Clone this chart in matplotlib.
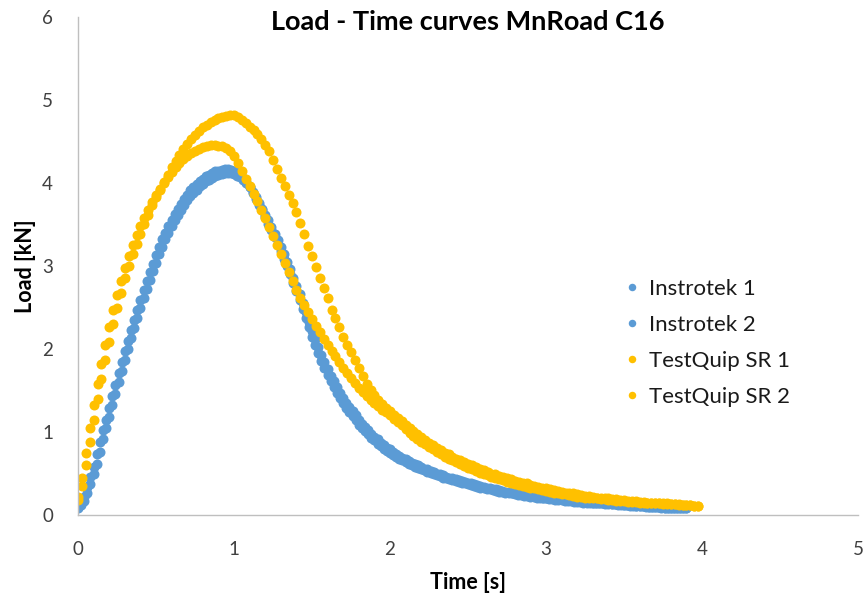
import numpy as np
import matplotlib
matplotlib.use("Agg")
import matplotlib.pyplot as plt

plt.rcParams['font.family'] = ['Lato', 'DejaVu Sans']

title = "Load - Time curves MnRoad C16"
x_label = "Time [s]"
y_label = "Load [kN]"
series_names = ["Instrotek 1", "Instrotek 2", "TestQuip SR 1", "TestQuip SR 2"]
x_ticks = [0, 1, 2, 3, 4, 5]
y_ticks = [0, 1, 2, 3, 4, 5, 6]

# sampling intervals [s]
dt_instrotek = 0.02
dt_testquip = 0.025

instrotek_1 = [
    0.10, 0.15, 0.22, 0.34, 0.46, 0.58, 0.73, 0.88, 1.02, 1.15,
    1.29, 1.43, 1.57, 1.71, 1.84, 1.97, 2.10, 2.23, 2.35, 2.47,
    2.59, 2.71, 2.82, 2.93, 3.03, 3.13, 3.23, 3.32, 3.40, 3.48,
    3.56, 3.63, 3.69, 3.75, 3.81, 3.86, 3.91, 3.95, 3.99, 4.02,
    4.05, 4.08, 4.10, 4.12, 4.14, 4.15, 4.16, 4.17, 4.17, 4.16,
    4.15, 4.13, 4.10, 4.06, 4.01, 3.95, 3.88, 3.81, 3.74, 3.67,
    3.59, 3.51, 3.43, 3.35, 3.27, 3.18, 3.09, 3.00, 2.90, 2.80,
    2.70, 2.59, 2.48, 2.37, 2.26, 2.15, 2.05, 1.95, 1.86, 1.77,
    1.69, 1.61, 1.54, 1.47, 1.41, 1.35, 1.29, 1.24, 1.19, 1.14,
    1.09, 1.05, 1.01, 0.97, 0.93, 0.90, 0.86, 0.83, 0.80, 0.77,
    0.75, 0.72, 0.70, 0.68, 0.66, 0.64, 0.62, 0.60, 0.58, 0.57,
    0.55, 0.54, 0.52, 0.51, 0.49, 0.48, 0.47, 0.45, 0.44, 0.43,
    0.42, 0.41, 0.40, 0.39, 0.38, 0.37, 0.36, 0.35, 0.34, 0.33,
    0.32, 0.31, 0.31, 0.30, 0.29, 0.28, 0.28, 0.27, 0.26, 0.26,
    0.25, 0.24, 0.24, 0.23, 0.23, 0.22, 0.22, 0.21, 0.21, 0.20,
    0.20, 0.19, 0.19, 0.18, 0.18, 0.18, 0.17, 0.17, 0.17, 0.16,
    0.16, 0.16, 0.15, 0.15, 0.15, 0.14, 0.14, 0.14, 0.14, 0.13,
    0.13, 0.13, 0.13, 0.12, 0.12, 0.12, 0.12, 0.11, 0.11, 0.11,
    0.11, 0.11, 0.10, 0.10, 0.10, 0.10, 0.10, 0.09, 0.09, 0.09,
    0.09, 0.09, 0.09, 0.08, 0.08, 0.08,
]

instrotek_2 = [
    0.09, 0.12, 0.17, 0.26, 0.37, 0.49, 0.62, 0.76, 0.91, 1.05,
    1.18, 1.32, 1.46, 1.60, 1.74, 1.87, 2.00, 2.13, 2.25, 2.37,
    2.49, 2.61, 2.72, 2.83, 2.94, 3.04, 3.14, 3.23, 3.32, 3.40,
    3.48, 3.55, 3.62, 3.68, 3.74, 3.79, 3.84, 3.88, 3.92, 3.96,
    3.99, 4.02, 4.04, 4.06, 4.08, 4.10, 4.11, 4.12, 4.12, 4.12,
    4.11, 4.09, 4.07, 4.04, 4.00, 3.95, 3.89, 3.83, 3.76, 3.69,
    3.62, 3.55, 3.47, 3.39, 3.31, 3.23, 3.14, 3.05, 2.96, 2.86,
    2.76, 2.66, 2.55, 2.44, 2.33, 2.22, 2.12, 2.02, 1.93, 1.84,
    1.76, 1.68, 1.61, 1.54, 1.47, 1.41, 1.35, 1.30, 1.25, 1.20,
    1.15, 1.10, 1.06, 1.02, 0.98, 0.94, 0.91, 0.87, 0.84, 0.81,
    0.79, 0.76, 0.74, 0.71, 0.69, 0.67, 0.65, 0.63, 0.61, 0.60,
    0.58, 0.56, 0.55, 0.53, 0.52, 0.50, 0.49, 0.48, 0.46, 0.45,
    0.44, 0.43, 0.42, 0.41, 0.40, 0.39, 0.38, 0.37, 0.36, 0.35,
    0.34, 0.33, 0.32, 0.31, 0.31, 0.30, 0.29, 0.28, 0.28, 0.27,
    0.26, 0.26, 0.25, 0.24, 0.24, 0.23, 0.23, 0.22, 0.22, 0.21,
    0.21, 0.20, 0.20, 0.19, 0.19, 0.19, 0.18, 0.18, 0.18, 0.17,
    0.17, 0.17, 0.16, 0.16, 0.16, 0.15, 0.15, 0.15, 0.14, 0.14,
    0.14, 0.13, 0.13, 0.13, 0.13, 0.12, 0.12, 0.12, 0.12, 0.11,
    0.11, 0.11, 0.11, 0.10, 0.10, 0.10, 0.10, 0.10, 0.09, 0.09,
    0.09, 0.09, 0.09, 0.09, 0.08, 0.08,
]

testquip_sr_1 = [
    0.18, 0.35, 0.60, 0.88, 1.15, 1.40, 1.64, 1.87, 2.09, 2.30,
    2.50, 2.68, 2.85, 3.00, 3.14, 3.27, 3.39, 3.51, 3.62, 3.73,
    3.83, 3.92, 4.01, 4.10, 4.19, 4.27, 4.34, 4.41, 4.47, 4.53,
    4.58, 4.63, 4.67, 4.70, 4.73, 4.76, 4.78, 4.80, 4.81, 4.82,
    4.82, 4.79, 4.76, 4.72, 4.68, 4.64, 4.59, 4.53, 4.46, 4.38,
    4.28, 4.17, 4.06, 3.96, 3.86, 3.76, 3.65, 3.52, 3.38, 3.24,
    3.12, 2.99, 2.85, 2.73, 2.61, 2.47, 2.37, 2.26, 2.15, 2.05,
    1.96, 1.87, 1.77, 1.67, 1.58, 1.51, 1.45, 1.39, 1.34, 1.29,
    1.25, 1.21, 1.17, 1.13, 1.09, 1.05, 1.01, 0.97, 0.94, 0.90,
    0.87, 0.84, 0.81, 0.78, 0.75, 0.73, 0.70, 0.68, 0.66, 0.64,
    0.62, 0.60, 0.58, 0.56, 0.54, 0.52, 0.50, 0.49, 0.47, 0.46,
    0.44, 0.43, 0.41, 0.40, 0.39, 0.38, 0.36, 0.35, 0.34, 0.33,
    0.32, 0.31, 0.30, 0.29, 0.28, 0.27, 0.26, 0.26, 0.25, 0.24,
    0.23, 0.23, 0.22, 0.21, 0.21, 0.20, 0.20, 0.19, 0.19, 0.18,
    0.18, 0.17, 0.17, 0.17, 0.16, 0.16, 0.15, 0.15, 0.15, 0.14,
    0.14, 0.14, 0.13, 0.13, 0.13, 0.12, 0.12, 0.12, 0.11, 0.11,
]

testquip_sr_2 = [
    0.22, 0.45, 0.75, 1.05, 1.33, 1.58, 1.82, 2.05, 2.27, 2.47,
    2.65, 2.82, 2.98, 3.12, 3.25, 3.37, 3.48, 3.58, 3.68, 3.77,
    3.85, 3.93, 4.00, 4.07, 4.13, 4.19, 4.24, 4.29, 4.33, 4.36,
    4.39, 4.41, 4.43, 4.45, 4.46, 4.46, 4.45, 4.44, 4.42, 4.38,
    4.33, 4.24, 4.14, 4.05, 3.96, 3.87, 3.78, 3.68, 3.58, 3.47,
    3.36, 3.25, 3.14, 3.04, 2.93, 2.82, 2.71, 2.62, 2.53, 2.44,
    2.36, 2.28, 2.20, 2.12, 2.05, 1.98, 1.91, 1.84, 1.77, 1.71,
    1.65, 1.59, 1.53, 1.48, 1.43, 1.39, 1.35, 1.31, 1.27, 1.24,
    1.20, 1.16, 1.12, 1.08, 1.04, 0.99, 0.95, 0.91, 0.88, 0.85,
    0.82, 0.79, 0.76, 0.73, 0.70, 0.68, 0.66, 0.64, 0.61, 0.59,
    0.57, 0.55, 0.53, 0.51, 0.49, 0.48, 0.46, 0.45, 0.43, 0.42,
    0.40, 0.39, 0.37, 0.36, 0.35, 0.34, 0.33, 0.32, 0.31, 0.30,
    0.29, 0.28, 0.27, 0.26, 0.25, 0.25, 0.24, 0.23, 0.22, 0.22,
    0.21, 0.21, 0.20, 0.20, 0.19, 0.19, 0.18, 0.18, 0.17, 0.17,
    0.17, 0.16, 0.16, 0.16, 0.15, 0.15, 0.15, 0.14, 0.14, 0.14,
    0.13, 0.13, 0.13, 0.13, 0.12, 0.12, 0.12, 0.12, 0.11, 0.11,
]

time_instrotek = np.round(np.arange(len(instrotek_1)) * dt_instrotek, 3)
time_testquip = np.round(np.arange(len(testquip_sr_1)) * dt_testquip, 3)

blue = "#5B9BD5"
gold = "#FFC000"

fig = plt.figure(figsize=(8.65, 5.98), dpi=100)
ax = fig.add_axes([78 / 865, 83 / 598, 780 / 865, 498 / 598])

series = [
    (time_instrotek, instrotek_1, blue),
    (time_instrotek, instrotek_2, blue),
    (time_testquip, testquip_sr_1, gold),
    (time_testquip, testquip_sr_2, gold),
]
for (t, y, c), name in zip(series, series_names):
    ax.plot(t, y, linestyle="none", marker="o", markersize=7.2,
            markeredgewidth=0, color=c, label=name)

ax.set_xlim(0, 5)
ax.set_ylim(0, 6)
ax.set_xticks(x_ticks)
ax.set_yticks(y_ticks)
for s in ["top", "right"]:
    ax.spines[s].set_visible(False)
for s in ["left", "bottom"]:
    ax.spines[s].set_color("#BFBFBF")
    ax.spines[s].set_linewidth(1.0)
ax.tick_params(axis="both", length=0, labelsize=13.5, labelcolor="#404040")
ax.tick_params(axis="y", pad=18)
ax.tick_params(axis="x", pad=19)

ax.set_title(title, fontsize=19.5, fontweight="bold", color="#000000", pad=4, y=0.962)
ax.set_xlabel(x_label, fontsize=15.5, fontweight="bold", color="#000000", labelpad=10)
ax.set_ylabel(y_label, fontsize=15.5, fontweight="bold", color="#000000", labelpad=4)

leg = ax.legend(loc="upper left", bbox_to_anchor=(0.684, 0.492), frameon=False,
                fontsize=16, markerscale=0.75, handletextpad=0.3, handlelength=1.0,
                labelspacing=0.72, borderaxespad=0)
for txt in leg.get_texts():
    txt.set_color("#1a1a1a")

fig.savefig("out.png", dpi=100)
